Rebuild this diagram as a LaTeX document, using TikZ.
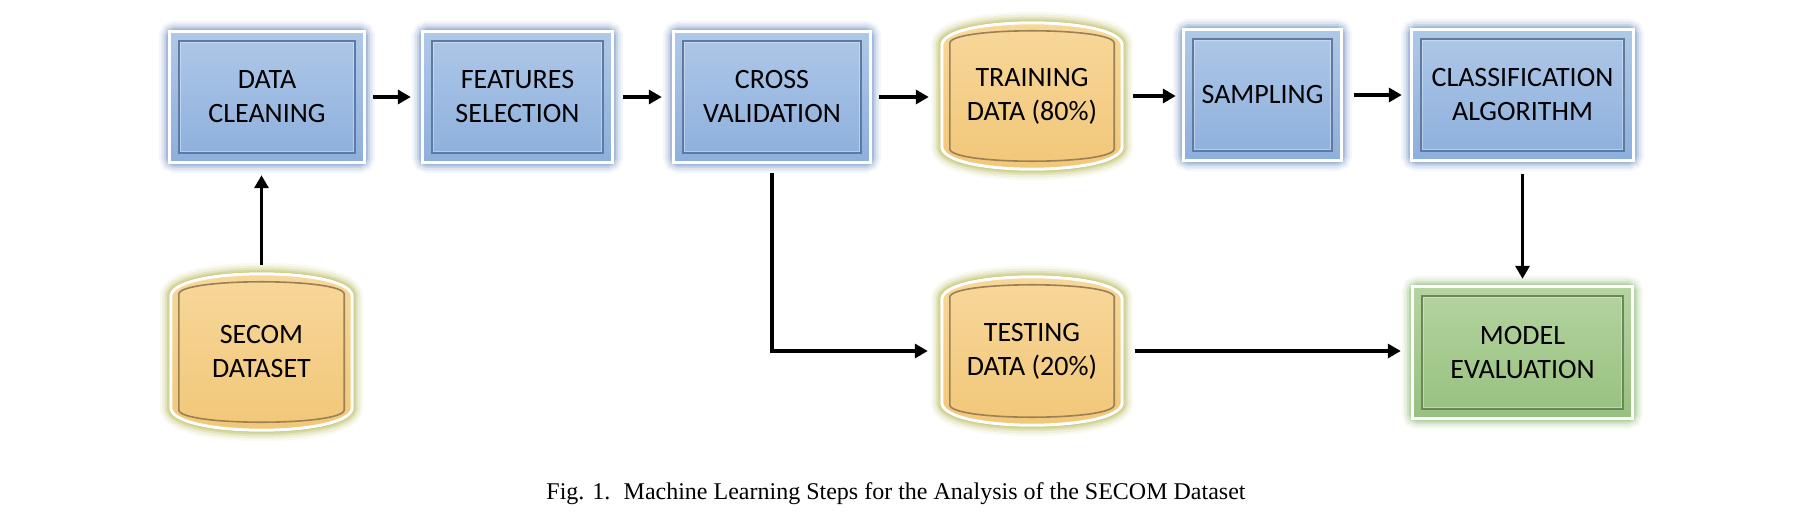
\documentclass[tikz,border=0pt]{standalone}
\usepackage{fontspec}
\setmainfont{Liberation Serif}
\newfontfamily\boxfont{Carlito}
\usetikzlibrary{arrows.meta,backgrounds,calc}

\definecolor{bluetop}{HTML}{AFC8E8}
\definecolor{bluebot}{HTML}{8CAFDC}
\definecolor{blueglow}{HTML}{3A68B0}
\definecolor{blueline}{HTML}{5E7AA0}
\definecolor{orgtop}{HTML}{F8D89C}
\definecolor{orgbot}{HTML}{F1C677}
\definecolor{orgglow}{HTML}{A0A018}
\definecolor{orgline}{HTML}{9A8052}
\definecolor{grntop}{HTML}{B4D4A0}
\definecolor{grnbot}{HTML}{97C07F}
\definecolor{grnglow}{HTML}{5AA53E}
\definecolor{grnline}{HTML}{6A865A}

\tikzset{
  lbl/.style={font=\boxfont\fontsize{28}{34}\selectfont, align=center, text=black, inner sep=0pt, rectangle},
  arr/.style={line width=3.6pt, black, -{Triangle[length=13pt,width=14pt]}},
  captxt/.style={font=\fontsize{24}{28}\selectfont, inner sep=0pt}
}

\newcommand\glowrect[5]{%
  \foreach \w/\o in {22/0.06,17/0.1,12/0.15,8/0.2,4/0.3}{
    \draw[#2, line width=\w pt, opacity=\o, rounded corners=5pt] (#1.south west) rectangle (#1.north east);}
  \fill[top color=#3, bottom color=#4] (#1.south west) rectangle (#1.north east);
  \draw[white, line width=3pt] (#1.south west) rectangle (#1.north east);
  \draw[#5, line width=1.6pt] ([xshift=9pt,yshift=9pt]#1.south west) rectangle ([xshift=-9pt,yshift=-9pt]#1.north east);
  \draw[white, opacity=0.35, line width=1pt] ([xshift=11pt,yshift=11pt]#1.south west) rectangle ([xshift=-11pt,yshift=-11pt]#1.north east);
}

\newcommand\cylpath[3]{%
  ([xshift=#2pt,yshift=-#3pt]#1.north west)
  .. controls ([xshift=#2pt+3pt,yshift=#3pt*0.333-#2pt*1.33]#1.north west) and ([xshift=-#2pt-3pt,yshift=#3pt*0.333-#2pt*1.33]#1.north east) ..
  ([xshift=-#2pt,yshift=-#3pt]#1.north east)
  -- ([xshift=-#2pt,yshift=#3pt]#1.south east)
  .. controls ([xshift=-#2pt-3pt,yshift=-#3pt*0.333+#2pt*1.33]#1.south east) and ([xshift=#2pt+3pt,yshift=-#3pt*0.333+#2pt*1.33]#1.south west) ..
  ([xshift=#2pt,yshift=#3pt]#1.south west) -- cycle}

\newcommand\glowcyl[1]{%
  \foreach \w/\o in {22/0.06,17/0.1,12/0.15,8/0.2,4/0.3}{
    \draw[orgglow, line width=\w pt, opacity=\o, line join=round] \cylpath{#1}{0}{22};}
  \fill[top color=orgtop, bottom color=orgbot] \cylpath{#1}{0}{22};
  \draw[white, line width=3pt, line join=round] \cylpath{#1}{0}{22};
  \draw[orgline, line width=1.6pt, line join=round] \cylpath{#1}{8}{20};
}

\begin{document}
\begin{tikzpicture}[x=1pt,y=-1pt]
\useasboundingbox (0,0) rectangle (1802,514);

% nodes
\node[lbl, minimum width=194, minimum height=130] (dc) at (267,97) {DATA\\CLEANING};
\node[lbl, minimum width=189, minimum height=130] (fs) at (517.5,97) {FEATURES\\SELECTION};
\node[lbl, minimum width=196, minimum height=130] (cv) at (772,97) {CROSS\\VALIDATION};
\node[lbl, minimum width=180, minimum height=146] (tr) at (1032,96) {TRAINING\\DATA (80\%)};
\node[lbl, minimum width=157, minimum height=130] (sa) at (1262.5,95) {SAMPLING};
\node[lbl, minimum width=221, minimum height=130] (cl) at (1522.5,95) {CLASSIFICATION\\ALGORITHM};
\node[lbl, minimum width=181, minimum height=156] (sd) at (261.5,352) {SECOM\\DATASET};
\node[lbl, minimum width=180, minimum height=148] (te) at (1032,351) {TESTING\\DATA (20\%)};
\node[lbl, minimum width=219, minimum height=131] (me) at (1522.5,352.5) {MODEL\\EVALUATION};
\node[captxt] (cap) at (896,494) {Fig. 1.\hspace{0.55em}Machine Learning Steps for the Analysis of the SECOM Dataset};

\begin{scope}[on background layer]
  \fill[white] (0,0) rectangle (1802,514);
  \glowrect{dc}{blueglow}{bluetop}{bluebot}{blueline}
  \glowrect{fs}{blueglow}{bluetop}{bluebot}{blueline}
  \glowrect{cv}{blueglow}{bluetop}{bluebot}{blueline}
  \glowrect{sa}{blueglow}{bluetop}{bluebot}{blueline}
  \glowrect{cl}{blueglow}{bluetop}{bluebot}{blueline}
  \glowrect{me}{grnglow}{grntop}{grnbot}{grnline}
  \glowcyl{tr}
  \glowcyl{te}
  \glowcyl{sd}
\end{scope}

% connectors
\draw[arr, shorten <=9pt, shorten >=12pt] (dc.east) -- (dc.east -| fs.west);
\draw[arr, shorten <=11pt, shorten >=12pt] (fs.east) -- (fs.east -| cv.west);
\draw[arr, shorten <=9pt, shorten >=13pt] (cv.east) -- (cv.east -| tr.west);
\draw[arr, shorten <=11pt, shorten >=8pt] (tr.east) -- (tr.east -| sa.west);
\draw[arr, shorten <=13pt, shorten >=10pt] (sa.east) -- (sa.east -| cl.west);
\draw[arr, shorten <=14pt, shorten >=8pt] (cl.south) -- (me.north);
\draw[arr, shorten <=9pt, shorten >=13pt] (sd.north) -- (sd.north |- dc.south);
\draw[arr, shorten <=11pt, shorten >=14pt] (cv.south) |- (te.west);
\draw[arr, shorten <=13pt, shorten >=12pt] (te.east) -- (te.east -| me.west);
\end{tikzpicture}
\end{document}
